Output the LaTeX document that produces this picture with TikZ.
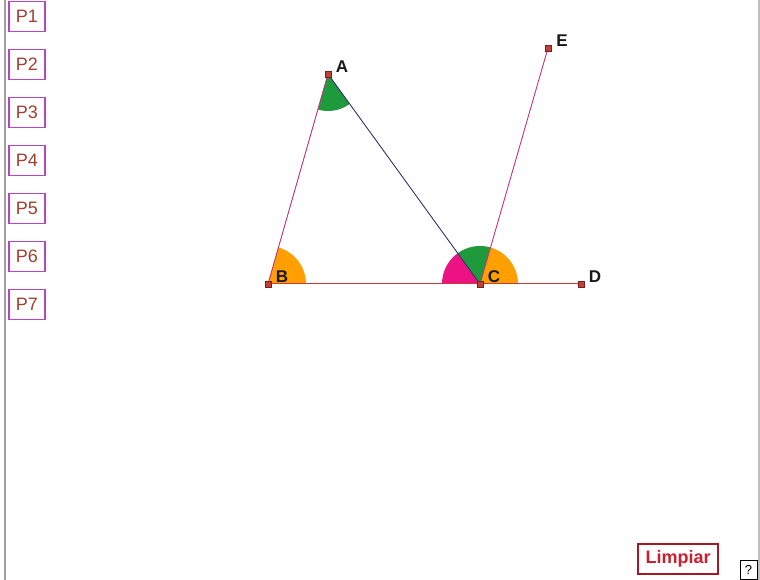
\documentclass[tikz,border=0pt]{standalone}
\usepackage{fontspec}
\setmainfont{Liberation Sans}
\usepackage{xcolor}
\usepackage{tikz}
\definecolor{angorange}{HTML}{FF9F00}
\definecolor{anggreen}{HTML}{1E9A3C}
\definecolor{angpink}{HTML}{EC1283}
\definecolor{segmag}{HTML}{C2347E}
\definecolor{segnavy}{HTML}{2E3468}
\definecolor{segred}{HTML}{C83A3A}
\definecolor{ptred}{HTML}{C0403A}
\definecolor{ptdark}{HTML}{7A1E1E}
\definecolor{btnpurple}{HTML}{B447C4}
\definecolor{btntext}{HTML}{A0402E}
\definecolor{clrred}{HTML}{CC1F2E}
\tikzset{
  pt/.style={fill=ptred, draw=ptdark, line width=0.7pt, minimum size=6pt, inner sep=0pt, rectangle},
  lab/.style={font=\fontsize{17}{17}\selectfont\bfseries, text=black!90, inner sep=0pt, xshift=14pt, yshift=7pt},
  pbox/.style={draw=btnpurple, line width=1.4pt, text=btntext, minimum width=36pt, minimum height=30pt, inner sep=0pt, font=\fontsize{18}{18}\selectfont}
}

\begin{document}
\begin{tikzpicture}[x=1pt,y=1pt]
  \useasboundingbox (0,0) rectangle (760,580);
  \draw[gray!75, line width=2pt] (4.5,0) -- (4.5,580);
  \draw[gray!50, line width=1.4pt] (759,0) -- (759,580);
  \coordinate (A) at (328,506);
  \coordinate (B) at (268,296);
  \coordinate (C) at (480,296);
  \coordinate (D) at (581,296);
  \coordinate (E) at (548,532);
  % angles
  \fill[angorange] (B) -- ++(0:38) arc[start angle=0, end angle=74.05, radius=38] -- cycle;
  \fill[anggreen] (A) -- ++(254.05:37) arc[start angle=254.05, end angle=305.9, radius=37] -- cycle;
  \fill[angpink] (C) -- ++(125.9:38) arc[start angle=125.9, end angle=180, radius=38] -- cycle;
  \fill[anggreen] (C) -- ++(73.93:38) arc[start angle=73.93, end angle=125.9, radius=38] -- cycle;
  \fill[angorange] (C) -- ++(0:38) arc[start angle=0, end angle=73.93, radius=38] -- cycle;
  % segments
  \draw[segmag, line width=0.9pt] (A) -- (B);
  \draw[segnavy, line width=0.9pt] (A) -- (C);
  \draw[segred, line width=1pt] (B) -- (D);
  \draw[segmag, line width=0.9pt] (C) -- (E);
  \foreach \p in {A,B,C,D,E}
    \node[pt] (pt\p) at (\p) {};
  \foreach \p in {A,B,C,D,E}
    \node[lab] (lab\p) at (\p) {\p};
  % buttons
  \foreach \i in {1,...,7}
    \node[pbox] (p\i) at (27,{563.5-48*(\i-1)}) {P\i};
  \node[draw=clrred!80!black, line width=1.4pt, text=clrred, minimum width=80pt, minimum height=30pt,
    inner sep=0pt, font=\fontsize{18}{18}\selectfont\bfseries] (limpiar) at (678,21) {Limpiar};
  \node[draw=black, line width=0.8pt, minimum width=17pt, minimum height=19pt, inner sep=0pt,
    font=\fontsize{13}{13}\selectfont] (help) at (748.5,10.5) {?};
\end{tikzpicture}
\end{document}
